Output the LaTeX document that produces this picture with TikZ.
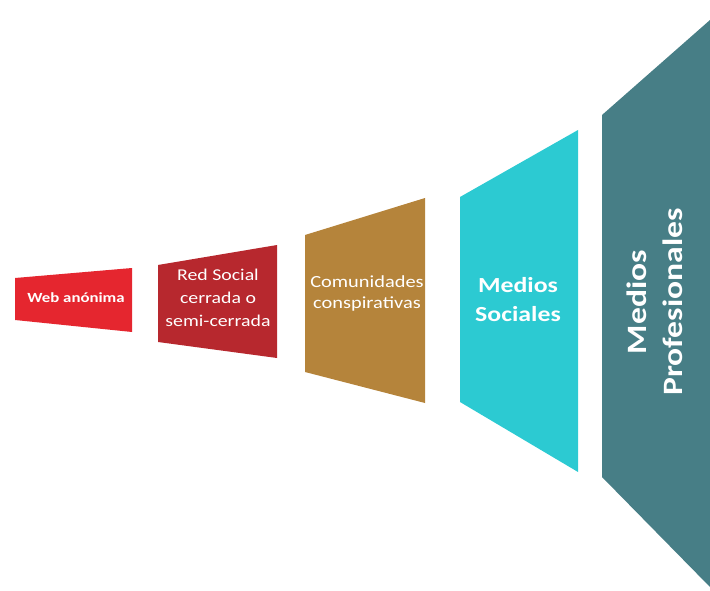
\documentclass[tikz,border=0pt]{standalone}
\usepackage{fontspec}
\setmainfont{Carlito}
\newfontfamily\widefont{Carlito}[FakeStretch=1.2]
\definecolor{webred}{HTML}{E5262F}
\definecolor{redsoc}{HTML}{B7282E}
\definecolor{conspi}{HTML}{B5843B}
\definecolor{social}{HTML}{2CCAD2}
\definecolor{profes}{HTML}{477E86}
\begin{document}
\begin{tikzpicture}[x=1pt, y=-1pt,
    lbl/.style={text=white, align=center, inner sep=0pt}]
    \useasboundingbox (0,0) rectangle (710,591);
    % the five panels, growing to the right
    \fill[webred] (15,278) -- (132,268) -- (132,332) -- (15,320) -- cycle;
    \fill[redsoc] (158,265) -- (277,245) -- (277,358) -- (158,342) -- cycle;
    \fill[conspi] (305,235) -- (425,198) -- (425,403) -- (305,372) -- cycle;
    \fill[social] (460,197) -- (578,130) -- (578,472) -- (460,402) -- cycle;
    \fill[profes] (602,115) -- (710,20) -- (710,587) -- (602,477) -- cycle;
    % labels
    \node[lbl, font=\widefont\bfseries\fontsize{14}{16}\selectfont] (web) at (76,298) {Web anónima};
    \node[lbl, font=\widefont\fontsize{16.5}{23}\selectfont] (red) at (218,298) {Red Social\\cerrada o\\semi-cerrada};
    \node[lbl, font=\widefont\fontsize{17}{21}\selectfont] (com) at (367,293) {Comunidades\\conspirativas};
    \node[lbl, font=\widefont\bfseries\fontsize{21.5}{29}\selectfont] (soc) at (518,300) {Medios\\Sociales};
    \node[lbl, rotate=90, font=\widefont\bfseries\fontsize{28}{36}\selectfont] (pro) at (655,302) {Medios\\Profesionales};
\end{tikzpicture}
\end{document}
